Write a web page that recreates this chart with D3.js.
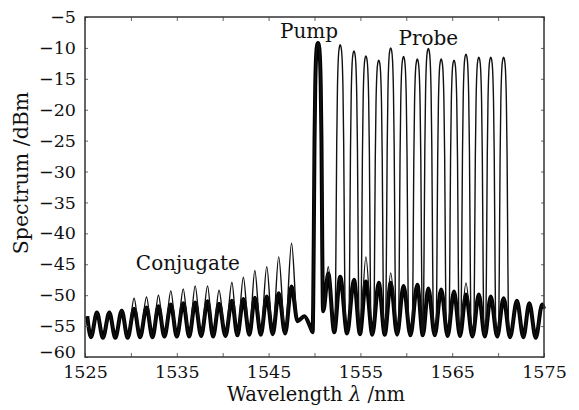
<!DOCTYPE html>
<html>
<head>
<meta charset="utf-8">
<script src="https://cdn.jsdelivr.net/npm/d3@7"></script>
<style>
  body { margin: 0; background: #fff; }
  svg text { font-family: "DejaVu Serif", serif; fill: #111; }
</style>
</head>
<body>
<div id="chart"></div>
<script>
// ---- data ----
const xTicks = [1525, 1530, 1535, 1540, 1545, 1550, 1555, 1560, 1565, 1570, 1575];
const yTicks = [-5, -10, -15, -20, -25, -30, -35, -40, -45, -50, -55, -60];

// background ripple (the thick band), peaks and troughs
const ripplePeakWl = [1526.3, 1527.65, 1529.0, 1530.35, 1531.7, 1533.0, 1534.35, 1535.7, 1537.0, 1538.35, 1539.6, 1541.0, 1542.25, 1543.5, 1544.8, 1546.1, 1547.5,
                      1551.5, 1552.8, 1554.3, 1555.6, 1557.0, 1558.3, 1559.7, 1561.2, 1562.4, 1563.8, 1565.2, 1566.5, 1567.9, 1569.2, 1570.6, 1572.05, 1573.4, 1574.8];
const ripplePeakDb = [-52.8, -52.8, -52.5, -52.2, -52.0, -51.8, -51.5, -51.3, -51.2, -51.0, -51.4, -50.9, -50.6, -50.4, -50.2, -49.7, -48.6,
                      -46.5, -47.0, -47.5, -47.8, -48.0, -48.0, -48.5, -48.3, -48.9, -49.1, -49.4, -49.9, -49.9, -50.2, -50.5, -50.9, -51.3, -51.5];
const troughWl = [1525.65, 1526.95, 1528.3, 1529.65, 1531.0, 1532.35, 1533.65, 1535.0, 1536.35, 1537.65, 1538.95, 1540.3, 1541.6, 1542.9, 1544.15, 1545.45, 1546.8, 1548.15,
                  1552.15, 1553.55, 1554.95, 1556.3, 1557.65, 1559.0, 1560.45, 1561.8, 1563.1, 1564.5, 1565.85, 1567.2, 1568.55, 1569.9, 1571.3, 1572.75, 1574.1];
const troughDb = [-56.8, -56.9, -56.9, -56.9, -56.8, -56.8, -56.7, -56.7, -56.7, -56.6, -56.7, -56.6, -56.5, -56.4, -56.4, -56.3, -56.2, -54.2,
                  -56.0, -56.2, -56.3, -56.4, -56.4, -56.4, -56.5, -56.5, -56.5, -56.6, -56.6, -56.7, -56.7, -56.7, -56.8, -56.8, -56.9];
// ends of the trace and the shelf beside the pump
const edgeWl = [1525.25, 1548.9, 1549.5, 1549.8, 1550.95, 1575];
const edgeDb = [-53.4, -53.4, -55.0, -56.0, -52.6, -52.2];

// pump, probes and conjugates (peak tops)
const pumpWl = 1550.38;
const pumpDb = -9.2;
const probeWl = [1552.8, 1554.3, 1555.6, 1557.0, 1558.3, 1559.7, 1561.2, 1562.4, 1563.8, 1565.2, 1566.5, 1567.9, 1569.2, 1570.6];
const probeDb = [-9.5, -10.5, -11.3, -12.0, -10.0, -11.4, -11.8, -10.1, -11.8, -12.0, -11.0, -11.5, -11.5, -11.5];
const conjWl = [1530.35, 1531.7, 1533.0, 1534.35, 1535.7, 1537.0, 1538.35, 1539.6, 1541.0, 1542.25, 1543.5, 1544.8, 1546.1, 1547.5];
const conjDb = [-50.5, -50.3, -50.0, -49.3, -49.0, -48.5, -48.5, -49.2, -47.9, -47.1, -46.0, -45.4, -43.8, -41.6];
// weaker side bumps drawn as thin outlines over the band
const extraWl = [1551.5, 1555.6, 1558.3, 1566.5];
const extraDb = [-45.4, -43.8, -46.4, -48.0];

// shape of a tall line (offset nm, drop below top in dB), read from the probe peaks
const peakShape = [[0.1, 0.4], [0.2, 2], [0.3, 7], [0.38, 16], [0.45, 30], [0.52, 42]];

// ---- layout ----
const W = 579, H = 410;
const plotL = 85, plotR = 544, plotT = 17, plotB = 357;

const x = d3.scaleLinear().domain([1525, 1575]).range([plotL, plotR]);
const y = d3.scaleLinear().domain([-60, -5]).range([plotB, plotT]);

const svg = d3.select("#chart").append("svg")
  .attr("width", W).attr("height", H)
  .style("background", "#fff");

function peaksWith(tallWl, tallDb) {
  // ripple peaks, replaced by a taller peak where one sits on them
  return ripplePeakWl.map((wl, i) => {
    const j = tallWl.findIndex(t => Math.abs(t - wl) < 0.4);
    return j >= 0 ? [tallWl[j], tallDb[j]] : [wl, ripplePeakDb[i]];
  });
}

function buildTrace(peaks) {
  const pts = [];
  troughWl.forEach((wl, i) => pts.push([wl, troughDb[i]]));
  edgeWl.forEach((wl, i) => pts.push([wl, edgeDb[i]]));
  peaks.concat([[pumpWl, pumpDb]]).forEach(([wl, db]) => {
    pts.push([wl, db]);
    if (db > -30) {
      peakShape.forEach(([d, drop]) => {
        pts.push([wl - d, db - drop]);
        pts.push([wl + d, db - drop]);
      });
    }
  });
  pts.sort((a, b) => a[0] - b[0]);
  return pts;
}

const line = d3.line()
  .x(d => x(d[0]))
  .y(d => y(d[1]))
  .curve(d3.curveMonotoneX);

const plot = svg.append("g");

// thick band of overlaid traces
plot.append("path")
  .datum(buildTrace(peaksWith([], [])))
  .attr("d", line)
  .attr("fill", "none")
  .attr("stroke", "#000")
  .attr("stroke-width", 4)
  .attr("stroke-linejoin", "round");

// thin outlines: side bumps
plot.append("path")
  .datum(buildTrace(peaksWith(extraWl, extraDb)))
  .attr("d", line)
  .attr("fill", "none")
  .attr("stroke", "#111")
  .attr("stroke-width", 1.3);

// thin outlines: conjugates and probes
plot.append("path")
  .datum(buildTrace(peaksWith(conjWl.concat(probeWl), conjDb.concat(probeDb))))
  .attr("d", line)
  .attr("fill", "none")
  .attr("stroke", "#111")
  .attr("stroke-width", 1.4);

// ---- axes ----
const fmt = d3.format("d");

svg.append("g")
  .attr("transform", `translate(0,${plotB})`)
  .call(d3.axisBottom(x).tickValues(xTicks).tickSize(-4).tickPadding(8.6)
    .tickFormat(d => (d - 1525) % 10 === 0 ? fmt(d) : ""));
svg.append("g")
  .attr("transform", `translate(0,${plotT})`)
  .call(d3.axisTop(x).tickValues(xTicks).tickSize(-4).tickFormat(""));

const yAxis = svg.append("g")
  .attr("transform", `translate(${plotL},0)`)
  .call(d3.axisLeft(y).tickValues(yTicks).tickSize(-3).tickPadding(9).tickFormat(fmt));
svg.append("g")
  .attr("transform", `translate(${plotR},0)`)
  .call(d3.axisRight(y).tickValues(yTicks).tickSize(-3).tickFormat(""));

svg.selectAll(".domain").remove();
svg.selectAll(".tick line").attr("stroke", "#666");
svg.selectAll(".tick text")
  .attr("font-family", "DejaVu Serif")
  .attr("font-size", 17.5)
  .attr("fill", "#111");
// the lowest label sits a little higher so it clears the 1525 label
yAxis.selectAll(".tick text").filter(d => d === -60).attr("dy", "0.04em");

// frame
svg.append("rect")
  .attr("x", plotL).attr("y", plotT)
  .attr("width", plotR - plotL).attr("height", plotB - plotT)
  .attr("fill", "none")
  .attr("stroke", "#333")
  .attr("stroke-width", 1.5);

// titles
svg.append("text")
  .attr("x", 316).attr("y", 401)
  .attr("text-anchor", "middle")
  .attr("font-size", 19.5)
  .html('Wavelength <tspan font-style="italic">λ</tspan> /nm');

svg.append("text")
  .attr("transform", "translate(28,173) rotate(-90)")
  .attr("text-anchor", "middle")
  .attr("font-size", 20.5)
  .text("Spectrum /dBm");

// annotations
const notes = [
  {t: "Pump", wl: 1549.4, db: -8.4},
  {t: "Probe", wl: 1562.4, db: -9.5},
  {t: "Conjugate", wl: 1536.2, db: -45.9}
];
svg.selectAll(".note").data(notes).enter().append("text")
  .attr("class", "note")
  .attr("x", d => x(d.wl))
  .attr("y", d => y(d.db))
  .attr("text-anchor", "middle")
  .attr("font-size", 20)
  .text(d => d.t);
</script>
</body>
</html>
